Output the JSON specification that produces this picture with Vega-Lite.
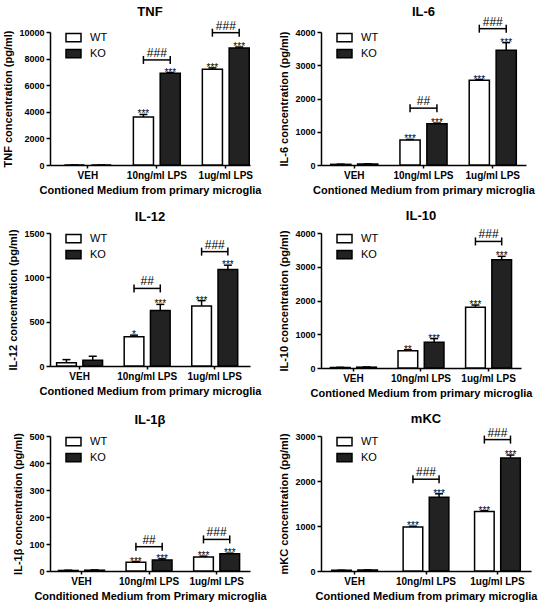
{
  "$schema": "https://vega.github.io/schema/vega-lite/v6.json",
  "padding": {"left": 2, "top": 5, "right": 5, "bottom": 2},
  "background": "white",
  "datasets": {
    "bars": [
      {"panel": "TNF", "dose": "VEH", "genotype": "WT", "val": 0, "hi": 0, "sig": ""},
      {"panel": "TNF", "dose": "VEH", "genotype": "KO", "val": 0, "hi": 0, "sig": ""},
      {"panel": "TNF", "dose": "10ng/ml LPS", "genotype": "WT", "val": 3600, "hi": 3800, "sig": "***"},
      {"panel": "TNF", "dose": "10ng/ml LPS", "genotype": "KO", "val": 6900, "hi": 6950, "sig": "***"},
      {"panel": "TNF", "dose": "1ug/ml LPS", "genotype": "WT", "val": 7200, "hi": 7300, "sig": "***"},
      {"panel": "TNF", "dose": "1ug/ml LPS", "genotype": "KO", "val": 8800, "hi": 8870, "sig": "***"},
      {"panel": "IL-6", "dose": "VEH", "genotype": "WT", "val": 20, "hi": 25, "sig": ""},
      {"panel": "IL-6", "dose": "VEH", "genotype": "KO", "val": 30, "hi": 35, "sig": ""},
      {"panel": "IL-6", "dose": "10ng/ml LPS", "genotype": "WT", "val": 750, "hi": 770, "sig": "***"},
      {"panel": "IL-6", "dose": "10ng/ml LPS", "genotype": "KO", "val": 1240, "hi": 1260, "sig": "***"},
      {"panel": "IL-6", "dose": "1ug/ml LPS", "genotype": "WT", "val": 2550, "hi": 2570, "sig": "***"},
      {"panel": "IL-6", "dose": "1ug/ml LPS", "genotype": "KO", "val": 3450, "hi": 3680, "sig": "***"},
      {"panel": "IL-12", "dose": "VEH", "genotype": "WT", "val": 38, "hi": 72, "sig": ""},
      {"panel": "IL-12", "dose": "VEH", "genotype": "KO", "val": 64, "hi": 110, "sig": ""},
      {"panel": "IL-12", "dose": "10ng/ml LPS", "genotype": "WT", "val": 330, "hi": 348, "sig": "*"},
      {"panel": "IL-12", "dose": "10ng/ml LPS", "genotype": "KO", "val": 625, "hi": 695, "sig": "***"},
      {"panel": "IL-12", "dose": "1ug/ml LPS", "genotype": "WT", "val": 676, "hi": 737, "sig": "***"},
      {"panel": "IL-12", "dose": "1ug/ml LPS", "genotype": "KO", "val": 1088, "hi": 1137, "sig": "***"},
      {"panel": "IL-10", "dose": "VEH", "genotype": "WT", "val": 15, "hi": 20, "sig": ""},
      {"panel": "IL-10", "dose": "VEH", "genotype": "KO", "val": 25, "hi": 30, "sig": ""},
      {"panel": "IL-10", "dose": "10ng/ml LPS", "genotype": "WT", "val": 510, "hi": 540, "sig": "**"},
      {"panel": "IL-10", "dose": "10ng/ml LPS", "genotype": "KO", "val": 760, "hi": 870, "sig": "***"},
      {"panel": "IL-10", "dose": "1ug/ml LPS", "genotype": "WT", "val": 1800, "hi": 1866, "sig": "***"},
      {"panel": "IL-10", "dose": "1ug/ml LPS", "genotype": "KO", "val": 3210, "hi": 3309, "sig": "***"},
      {"panel": "IL-1β", "dose": "VEH", "genotype": "WT", "val": 2, "hi": 3, "sig": ""},
      {"panel": "IL-1β", "dose": "VEH", "genotype": "KO", "val": 3, "hi": 4, "sig": ""},
      {"panel": "IL-1β", "dose": "10ng/ml LPS", "genotype": "WT", "val": 32, "hi": 35, "sig": "***"},
      {"panel": "IL-1β", "dose": "10ng/ml LPS", "genotype": "KO", "val": 41, "hi": 45, "sig": "***"},
      {"panel": "IL-1β", "dose": "1ug/ml LPS", "genotype": "WT", "val": 52, "hi": 55, "sig": "***"},
      {"panel": "IL-1β", "dose": "1ug/ml LPS", "genotype": "KO", "val": 64, "hi": 66, "sig": "***"},
      {"panel": "mKC", "dose": "VEH", "genotype": "WT", "val": 15, "hi": 18, "sig": ""},
      {"panel": "mKC", "dose": "VEH", "genotype": "KO", "val": 20, "hi": 24, "sig": ""},
      {"panel": "mKC", "dose": "10ng/ml LPS", "genotype": "WT", "val": 980, "hi": 995, "sig": "***"},
      {"panel": "mKC", "dose": "10ng/ml LPS", "genotype": "KO", "val": 1640, "hi": 1715, "sig": "***"},
      {"panel": "mKC", "dose": "1ug/ml LPS", "genotype": "WT", "val": 1325, "hi": 1340, "sig": "***"},
      {"panel": "mKC", "dose": "1ug/ml LPS", "genotype": "KO", "val": 2510, "hi": 2577, "sig": "***"}
    ],
    "brackets": [
      {"panel": "TNF", "dose": "10ng/ml LPS", "val": 7900, "sig": "###"},
      {"panel": "TNF", "dose": "1ug/ml LPS", "val": 9950, "sig": "###"},
      {"panel": "IL-6", "dose": "10ng/ml LPS", "val": 1710, "sig": "##"},
      {"panel": "IL-6", "dose": "1ug/ml LPS", "val": 4100, "sig": "###"},
      {"panel": "IL-12", "dose": "10ng/ml LPS", "val": 875, "sig": "##"},
      {"panel": "IL-12", "dose": "1ug/ml LPS", "val": 1290, "sig": "###"},
      {"panel": "IL-10", "dose": "1ug/ml LPS", "val": 3750, "sig": "###"},
      {"panel": "IL-1β", "dose": "10ng/ml LPS", "val": 90, "sig": "##"},
      {"panel": "IL-1β", "dose": "1ug/ml LPS", "val": 117, "sig": "###"},
      {"panel": "mKC", "dose": "10ng/ml LPS", "val": 2040, "sig": "###"},
      {"panel": "mKC", "dose": "1ug/ml LPS", "val": 2920, "sig": "###"}
    ]
  },
  "columns": 2,
  "spacing": {"column": 71, "row": 68},
  "bounds": "flush",
  "resolve": {"scale": {"x": "independent", "y": "independent", "fill": "independent", "xOffset": "independent"}, "legend": {"fill": "independent"}},
  "concat": [
    {
      "width": 200, "height": 133, "title": {"text": "TNF", "offset": 1},
      "encoding": {
        "x": {"field": "dose", "type": "nominal", "scale": {"domain": ["VEH", "10ng/ml LPS", "1ug/ml LPS"], "paddingInner": 0.32, "paddingOuter": 0.11, "align": 0.95}, "axis": {"title": "Contioned Medium from primary microglia"}},
        "y": {"field": "val", "type": "quantitative", "scale": {"domain": [0, 10000], "nice": false}, "axis": {"values": [0, 2000, 4000, 6000, 8000, 10000], "title": "TNF concentration (pg/ml)"}}
      },
      "layer": [
        {"data": {"name": "bars"}, "transform": [{"filter": "datum.panel === 'TNF'"}], "mark": {"type": "bar", "stroke": "#000", "strokeWidth": 1.5},
         "encoding": {"xOffset": {"field": "genotype", "type": "nominal", "scale": {"domain": ["WT", "KO"], "paddingInner": 0.25}},
           "fill": {"field": "genotype", "type": "nominal", "scale": {"domain": ["WT", "KO"], "range": ["#ffffff", "#222222"]}, "legend": {"title": null, "orient": "none", "legendX": 15, "legendY": -3}}}},
        {"data": {"name": "bars"}, "transform": [{"filter": "datum.panel === 'TNF'"}], "mark": {"type": "rule", "strokeWidth": 1.5, "color": "#000"},
         "encoding": {"xOffset": {"field": "genotype", "type": "nominal"}, "y2": {"field": "hi"}}},
        {"data": {"name": "bars"}, "transform": [{"filter": "datum.panel === 'TNF'"}], "mark": {"type": "tick", "size": 8, "thickness": 1.5, "color": "#000", "opacity": 1},
         "encoding": {"xOffset": {"field": "genotype", "type": "nominal"}, "y": {"field": "hi", "type": "quantitative", "axis": {"values": [0, 2000, 4000, 6000, 8000, 10000], "title": "TNF concentration (pg/ml)"}}}},
        {"data": {"name": "bars"}, "transform": [{"filter": "datum.panel === 'TNF'"}], "mark": {"type": "text", "baseline": "alphabetic", "dy": 3, "fontSize": 10, "color": "#000"},
         "encoding": {"xOffset": {"field": "genotype", "type": "nominal"}, "y": {"field": "hi", "type": "quantitative", "axis": {"values": [0, 2000, 4000, 6000, 8000, 10000], "title": "TNF concentration (pg/ml)"}}, "text": {"field": "sig"}}},
        {"data": {"name": "brackets"}, "transform": [{"filter": "datum.panel === 'TNF'"}], "mark": {"type": "tick", "size": 27, "thickness": 1.5, "color": "#000", "opacity": 1}, "encoding": {}},
        {"data": {"name": "brackets"}, "transform": [{"filter": "datum.panel === 'TNF'"}], "mark": {"type": "rule", "strokeWidth": 1.5, "color": "#000", "yOffset": -4, "y2Offset": 4},
         "encoding": {"xOffset": {"datum": "WT"}, "y2": {"field": "val"}}},
        {"data": {"name": "brackets"}, "transform": [{"filter": "datum.panel === 'TNF'"}], "mark": {"type": "rule", "strokeWidth": 1.5, "color": "#000", "yOffset": -4, "y2Offset": 4},
         "encoding": {"xOffset": {"datum": "KO"}, "y2": {"field": "val"}}},
        {"data": {"name": "brackets"}, "transform": [{"filter": "datum.panel === 'TNF'"}], "mark": {"type": "text", "baseline": "alphabetic", "dy": -3, "fontSize": 12, "color": "#000"},
         "encoding": {"text": {"field": "sig"}}}
      ]
    },
    {
      "width": 205, "height": 133, "title": {"text": "IL-6", "offset": -3},
      "encoding": {
        "x": {"field": "dose", "type": "nominal", "scale": {"domain": ["VEH", "10ng/ml LPS", "1ug/ml LPS"], "paddingInner": 0.32, "paddingOuter": 0.14}, "axis": {"title": "Contioned Medium from primary microglia"}},
        "y": {"field": "val", "type": "quantitative", "scale": {"domain": [0, 4000], "nice": false}, "axis": {"values": [0, 1000, 2000, 3000, 4000], "title": "IL-6 concentration (pg/ml)"}}
      },
      "layer": [
        {"data": {"name": "bars"}, "transform": [{"filter": "datum.panel === 'IL-6'"}], "mark": {"type": "bar", "stroke": "#000", "strokeWidth": 1.5},
         "encoding": {"xOffset": {"field": "genotype", "type": "nominal", "scale": {"domain": ["WT", "KO"], "paddingInner": 0.25}},
           "fill": {"field": "genotype", "type": "nominal", "scale": {"domain": ["WT", "KO"], "range": ["#ffffff", "#222222"]}, "legend": {"title": null, "orient": "none", "legendX": 15, "legendY": -3}}}},
        {"data": {"name": "bars"}, "transform": [{"filter": "datum.panel === 'IL-6'"}], "mark": {"type": "rule", "strokeWidth": 1.5, "color": "#000"},
         "encoding": {"xOffset": {"field": "genotype", "type": "nominal"}, "y2": {"field": "hi"}}},
        {"data": {"name": "bars"}, "transform": [{"filter": "datum.panel === 'IL-6'"}], "mark": {"type": "tick", "size": 8, "thickness": 1.5, "color": "#000", "opacity": 1},
         "encoding": {"xOffset": {"field": "genotype", "type": "nominal"}, "y": {"field": "hi", "type": "quantitative", "axis": {"values": [0, 1000, 2000, 3000, 4000], "title": "IL-6 concentration (pg/ml)"}}}},
        {"data": {"name": "bars"}, "transform": [{"filter": "datum.panel === 'IL-6'"}], "mark": {"type": "text", "baseline": "alphabetic", "dy": 3, "fontSize": 10, "color": "#000"},
         "encoding": {"xOffset": {"field": "genotype", "type": "nominal"}, "y": {"field": "hi", "type": "quantitative", "axis": {"values": [0, 1000, 2000, 3000, 4000], "title": "IL-6 concentration (pg/ml)"}}, "text": {"field": "sig"}}},
        {"data": {"name": "brackets"}, "transform": [{"filter": "datum.panel === 'IL-6'"}], "mark": {"type": "tick", "size": 27, "thickness": 1.5, "color": "#000", "opacity": 1}, "encoding": {}},
        {"data": {"name": "brackets"}, "transform": [{"filter": "datum.panel === 'IL-6'"}], "mark": {"type": "rule", "strokeWidth": 1.5, "color": "#000", "yOffset": -4, "y2Offset": 4},
         "encoding": {"xOffset": {"datum": "WT"}, "y2": {"field": "val"}}},
        {"data": {"name": "brackets"}, "transform": [{"filter": "datum.panel === 'IL-6'"}], "mark": {"type": "rule", "strokeWidth": 1.5, "color": "#000", "yOffset": -4, "y2Offset": 4},
         "encoding": {"xOffset": {"datum": "KO"}, "y2": {"field": "val"}}},
        {"data": {"name": "brackets"}, "transform": [{"filter": "datum.panel === 'IL-6'"}], "mark": {"type": "text", "baseline": "alphabetic", "dy": -3, "fontSize": 12, "color": "#000"},
         "encoding": {"text": {"field": "sig"}}}
      ]
    },
    {
      "width": 200, "height": 133, "title": {"text": "IL-12", "offset": 5},
      "encoding": {
        "x": {"field": "dose", "type": "nominal", "scale": {"domain": ["VEH", "10ng/ml LPS", "1ug/ml LPS"], "paddingInner": 0.32, "paddingOuter": 0.14, "align": 0.35}, "axis": {"title": "Contioned Medium from primary microglia"}},
        "y": {"field": "val", "type": "quantitative", "scale": {"domain": [0, 1500], "nice": false}, "axis": {"values": [0, 500, 1000, 1500], "title": "IL-12 concentration (pg/ml)"}}
      },
      "layer": [
        {"data": {"name": "bars"}, "transform": [{"filter": "datum.panel === 'IL-12'"}], "mark": {"type": "bar", "stroke": "#000", "strokeWidth": 1.5},
         "encoding": {"xOffset": {"field": "genotype", "type": "nominal", "scale": {"domain": ["WT", "KO"], "paddingInner": 0.25}},
           "fill": {"field": "genotype", "type": "nominal", "scale": {"domain": ["WT", "KO"], "range": ["#ffffff", "#222222"]}, "legend": {"title": null, "orient": "none", "legendX": 15, "legendY": -3}}}},
        {"data": {"name": "bars"}, "transform": [{"filter": "datum.panel === 'IL-12'"}], "mark": {"type": "rule", "strokeWidth": 1.5, "color": "#000"},
         "encoding": {"xOffset": {"field": "genotype", "type": "nominal"}, "y2": {"field": "hi"}}},
        {"data": {"name": "bars"}, "transform": [{"filter": "datum.panel === 'IL-12'"}], "mark": {"type": "tick", "size": 8, "thickness": 1.5, "color": "#000", "opacity": 1},
         "encoding": {"xOffset": {"field": "genotype", "type": "nominal"}, "y": {"field": "hi", "type": "quantitative", "axis": {"values": [0, 500, 1000, 1500], "title": "IL-12 concentration (pg/ml)"}}}},
        {"data": {"name": "bars"}, "transform": [{"filter": "datum.panel === 'IL-12'"}], "mark": {"type": "text", "baseline": "alphabetic", "dy": 3, "fontSize": 10, "color": "#000"},
         "encoding": {"xOffset": {"field": "genotype", "type": "nominal"}, "y": {"field": "hi", "type": "quantitative", "axis": {"values": [0, 500, 1000, 1500], "title": "IL-12 concentration (pg/ml)"}}, "text": {"field": "sig"}}},
        {"data": {"name": "brackets"}, "transform": [{"filter": "datum.panel === 'IL-12'"}], "mark": {"type": "tick", "size": 27, "thickness": 1.5, "color": "#000", "opacity": 1}, "encoding": {}},
        {"data": {"name": "brackets"}, "transform": [{"filter": "datum.panel === 'IL-12'"}], "mark": {"type": "rule", "strokeWidth": 1.5, "color": "#000", "yOffset": -4, "y2Offset": 4},
         "encoding": {"xOffset": {"datum": "WT"}, "y2": {"field": "val"}}},
        {"data": {"name": "brackets"}, "transform": [{"filter": "datum.panel === 'IL-12'"}], "mark": {"type": "rule", "strokeWidth": 1.5, "color": "#000", "yOffset": -4, "y2Offset": 4},
         "encoding": {"xOffset": {"datum": "KO"}, "y2": {"field": "val"}}},
        {"data": {"name": "brackets"}, "transform": [{"filter": "datum.panel === 'IL-12'"}], "mark": {"type": "text", "baseline": "alphabetic", "dy": -3, "fontSize": 12, "color": "#000"},
         "encoding": {"text": {"field": "sig"}}}
      ]
    },
    {
      "width": 200, "height": 135, "title": {"text": "IL-10", "offset": 5},
      "encoding": {
        "x": {"field": "dose", "type": "nominal", "scale": {"domain": ["VEH", "10ng/ml LPS", "1ug/ml LPS"], "paddingInner": 0.32, "paddingOuter": 0.14}, "axis": {"title": "Contioned Medium from primary microglia"}},
        "y": {"field": "val", "type": "quantitative", "scale": {"domain": [0, 4000], "nice": false}, "axis": {"values": [0, 1000, 2000, 3000, 4000], "title": "IL-10 concentration (pg/ml)"}}
      },
      "layer": [
        {"data": {"name": "bars"}, "transform": [{"filter": "datum.panel === 'IL-10'"}], "mark": {"type": "bar", "stroke": "#000", "strokeWidth": 1.5},
         "encoding": {"xOffset": {"field": "genotype", "type": "nominal", "scale": {"domain": ["WT", "KO"], "paddingInner": 0.25}},
           "fill": {"field": "genotype", "type": "nominal", "scale": {"domain": ["WT", "KO"], "range": ["#ffffff", "#222222"]}, "legend": {"title": null, "orient": "none", "legendX": 15, "legendY": -3}}}},
        {"data": {"name": "bars"}, "transform": [{"filter": "datum.panel === 'IL-10'"}], "mark": {"type": "rule", "strokeWidth": 1.5, "color": "#000"},
         "encoding": {"xOffset": {"field": "genotype", "type": "nominal"}, "y2": {"field": "hi"}}},
        {"data": {"name": "bars"}, "transform": [{"filter": "datum.panel === 'IL-10'"}], "mark": {"type": "tick", "size": 8, "thickness": 1.5, "color": "#000", "opacity": 1},
         "encoding": {"xOffset": {"field": "genotype", "type": "nominal"}, "y": {"field": "hi", "type": "quantitative", "axis": {"values": [0, 1000, 2000, 3000, 4000], "title": "IL-10 concentration (pg/ml)"}}}},
        {"data": {"name": "bars"}, "transform": [{"filter": "datum.panel === 'IL-10'"}], "mark": {"type": "text", "baseline": "alphabetic", "dy": 3, "fontSize": 10, "color": "#000"},
         "encoding": {"xOffset": {"field": "genotype", "type": "nominal"}, "y": {"field": "hi", "type": "quantitative", "axis": {"values": [0, 1000, 2000, 3000, 4000], "title": "IL-10 concentration (pg/ml)"}}, "text": {"field": "sig"}}},
        {"data": {"name": "brackets"}, "transform": [{"filter": "datum.panel === 'IL-10'"}], "mark": {"type": "tick", "size": 27, "thickness": 1.5, "color": "#000", "opacity": 1}, "encoding": {}},
        {"data": {"name": "brackets"}, "transform": [{"filter": "datum.panel === 'IL-10'"}], "mark": {"type": "rule", "strokeWidth": 1.5, "color": "#000", "yOffset": -4, "y2Offset": 4},
         "encoding": {"xOffset": {"datum": "WT"}, "y2": {"field": "val"}}},
        {"data": {"name": "brackets"}, "transform": [{"filter": "datum.panel === 'IL-10'"}], "mark": {"type": "rule", "strokeWidth": 1.5, "color": "#000", "yOffset": -4, "y2Offset": 4},
         "encoding": {"xOffset": {"datum": "KO"}, "y2": {"field": "val"}}},
        {"data": {"name": "brackets"}, "transform": [{"filter": "datum.panel === 'IL-10'"}], "mark": {"type": "text", "baseline": "alphabetic", "dy": -3, "fontSize": 12, "color": "#000"},
         "encoding": {"text": {"field": "sig"}}}
      ]
    },
    {
      "width": 200, "height": 135, "title": {"text": "IL-1β", "offset": 5},
      "encoding": {
        "x": {"field": "dose", "type": "nominal", "scale": {"domain": ["VEH", "10ng/ml LPS", "1ug/ml LPS"], "paddingInner": 0.32, "paddingOuter": 0.14, "align": 0.45}, "axis": {"title": "Conditioned Medium from Primary microglia"}},
        "y": {"field": "val", "type": "quantitative", "scale": {"domain": [0, 500], "nice": false}, "axis": {"values": [0, 100, 200, 300, 400, 500], "title": "IL-1β concentration (pg/ml)"}}
      },
      "layer": [
        {"data": {"name": "bars"}, "transform": [{"filter": "datum.panel === 'IL-1β'"}], "mark": {"type": "bar", "stroke": "#000", "strokeWidth": 1.5},
         "encoding": {"xOffset": {"field": "genotype", "type": "nominal", "scale": {"domain": ["WT", "KO"], "paddingInner": 0.25}},
           "fill": {"field": "genotype", "type": "nominal", "scale": {"domain": ["WT", "KO"], "range": ["#ffffff", "#222222"]}, "legend": {"title": null, "orient": "none", "legendX": 15, "legendY": -3}}}},
        {"data": {"name": "bars"}, "transform": [{"filter": "datum.panel === 'IL-1β'"}], "mark": {"type": "rule", "strokeWidth": 1.5, "color": "#000"},
         "encoding": {"xOffset": {"field": "genotype", "type": "nominal"}, "y2": {"field": "hi"}}},
        {"data": {"name": "bars"}, "transform": [{"filter": "datum.panel === 'IL-1β'"}], "mark": {"type": "tick", "size": 8, "thickness": 1.5, "color": "#000", "opacity": 1},
         "encoding": {"xOffset": {"field": "genotype", "type": "nominal"}, "y": {"field": "hi", "type": "quantitative", "axis": {"values": [0, 100, 200, 300, 400, 500], "title": "IL-1β concentration (pg/ml)"}}}},
        {"data": {"name": "bars"}, "transform": [{"filter": "datum.panel === 'IL-1β'"}], "mark": {"type": "text", "baseline": "alphabetic", "dy": 3, "fontSize": 10, "color": "#000"},
         "encoding": {"xOffset": {"field": "genotype", "type": "nominal"}, "y": {"field": "hi", "type": "quantitative", "axis": {"values": [0, 100, 200, 300, 400, 500], "title": "IL-1β concentration (pg/ml)"}}, "text": {"field": "sig"}}},
        {"data": {"name": "brackets"}, "transform": [{"filter": "datum.panel === 'IL-1β'"}], "mark": {"type": "tick", "size": 27, "thickness": 1.5, "color": "#000", "opacity": 1}, "encoding": {}},
        {"data": {"name": "brackets"}, "transform": [{"filter": "datum.panel === 'IL-1β'"}], "mark": {"type": "rule", "strokeWidth": 1.5, "color": "#000", "yOffset": -4, "y2Offset": 4},
         "encoding": {"xOffset": {"datum": "WT"}, "y2": {"field": "val"}}},
        {"data": {"name": "brackets"}, "transform": [{"filter": "datum.panel === 'IL-1β'"}], "mark": {"type": "rule", "strokeWidth": 1.5, "color": "#000", "yOffset": -4, "y2Offset": 4},
         "encoding": {"xOffset": {"datum": "KO"}, "y2": {"field": "val"}}},
        {"data": {"name": "brackets"}, "transform": [{"filter": "datum.panel === 'IL-1β'"}], "mark": {"type": "text", "baseline": "alphabetic", "dy": -3, "fontSize": 12, "color": "#000"},
         "encoding": {"text": {"field": "sig"}}}
      ]
    },
    {
      "width": 210, "height": 135, "title": {"text": "mKC", "offset": 1},
      "encoding": {
        "x": {"field": "dose", "type": "nominal", "scale": {"domain": ["VEH", "10ng/ml LPS", "1ug/ml LPS"], "paddingInner": 0.36, "paddingOuter": 0.15}, "axis": {"title": "Contioned Medium from primary microglia"}},
        "y": {"field": "val", "type": "quantitative", "scale": {"domain": [0, 3000], "nice": false}, "axis": {"values": [0, 1000, 2000, 3000], "title": "mKC concentration (pg/ml)"}}
      },
      "layer": [
        {"data": {"name": "bars"}, "transform": [{"filter": "datum.panel === 'mKC'"}], "mark": {"type": "bar", "stroke": "#000", "strokeWidth": 1.5},
         "encoding": {"xOffset": {"field": "genotype", "type": "nominal", "scale": {"domain": ["WT", "KO"], "paddingInner": 0.25}},
           "fill": {"field": "genotype", "type": "nominal", "scale": {"domain": ["WT", "KO"], "range": ["#ffffff", "#222222"]}, "legend": {"title": null, "orient": "none", "legendX": 15, "legendY": -3}}}},
        {"data": {"name": "bars"}, "transform": [{"filter": "datum.panel === 'mKC'"}], "mark": {"type": "rule", "strokeWidth": 1.5, "color": "#000"},
         "encoding": {"xOffset": {"field": "genotype", "type": "nominal"}, "y2": {"field": "hi"}}},
        {"data": {"name": "bars"}, "transform": [{"filter": "datum.panel === 'mKC'"}], "mark": {"type": "tick", "size": 8, "thickness": 1.5, "color": "#000", "opacity": 1},
         "encoding": {"xOffset": {"field": "genotype", "type": "nominal"}, "y": {"field": "hi", "type": "quantitative", "axis": {"values": [0, 1000, 2000, 3000], "title": "mKC concentration (pg/ml)"}}}},
        {"data": {"name": "bars"}, "transform": [{"filter": "datum.panel === 'mKC'"}], "mark": {"type": "text", "baseline": "alphabetic", "dy": 3, "fontSize": 10, "color": "#000"},
         "encoding": {"xOffset": {"field": "genotype", "type": "nominal"}, "y": {"field": "hi", "type": "quantitative", "axis": {"values": [0, 1000, 2000, 3000], "title": "mKC concentration (pg/ml)"}}, "text": {"field": "sig"}}},
        {"data": {"name": "brackets"}, "transform": [{"filter": "datum.panel === 'mKC'"}], "mark": {"type": "tick", "size": 27, "thickness": 1.5, "color": "#000", "opacity": 1}, "encoding": {}},
        {"data": {"name": "brackets"}, "transform": [{"filter": "datum.panel === 'mKC'"}], "mark": {"type": "rule", "strokeWidth": 1.5, "color": "#000", "yOffset": -4, "y2Offset": 4},
         "encoding": {"xOffset": {"datum": "WT"}, "y2": {"field": "val"}}},
        {"data": {"name": "brackets"}, "transform": [{"filter": "datum.panel === 'mKC'"}], "mark": {"type": "rule", "strokeWidth": 1.5, "color": "#000", "yOffset": -4, "y2Offset": 4},
         "encoding": {"xOffset": {"datum": "KO"}, "y2": {"field": "val"}}},
        {"data": {"name": "brackets"}, "transform": [{"filter": "datum.panel === 'mKC'"}], "mark": {"type": "text", "baseline": "alphabetic", "dy": -3, "fontSize": 12, "color": "#000"},
         "encoding": {"text": {"field": "sig"}}}
      ]
    }
  ],
  "config": {
    "font": "Liberation Sans",
    "view": {"stroke": null},
    "axis": {"domainColor": "#000", "domainWidth": 1.5, "tickColor": "#000", "tickWidth": 1.5, "labelColor": "#000", "titleColor": "#000", "labelFont": "Liberation Sans", "titleFont": "Liberation Sans", "labelFontWeight": "bold", "titleFontWeight": "bold", "grid": false},
    "axisX": {"labelAngle": 0, "labelFontSize": 10, "tickSize": 3, "labelPadding": 2, "titleFontSize": 11, "titlePadding": 4},
    "axisY": {"labelFontSize": 9, "tickSize": 4, "labelPadding": 2, "titleFontSize": 11, "titlePadding": 5, "labelOverlap": false, "format": "d"},
    "title": {"fontSize": 13, "fontWeight": "bold", "font": "Liberation Sans", "color": "#000"},
    "legend": {"symbolType": "M-1,-0.55H1V0.55H-1Z", "symbolSize": 225, "symbolStrokeColor": "#000", "symbolStrokeWidth": 1.5, "labelFontSize": 11, "labelFont": "Liberation Sans", "labelColor": "#000", "labelOffset": 8, "rowPadding": 0}
  }
}
